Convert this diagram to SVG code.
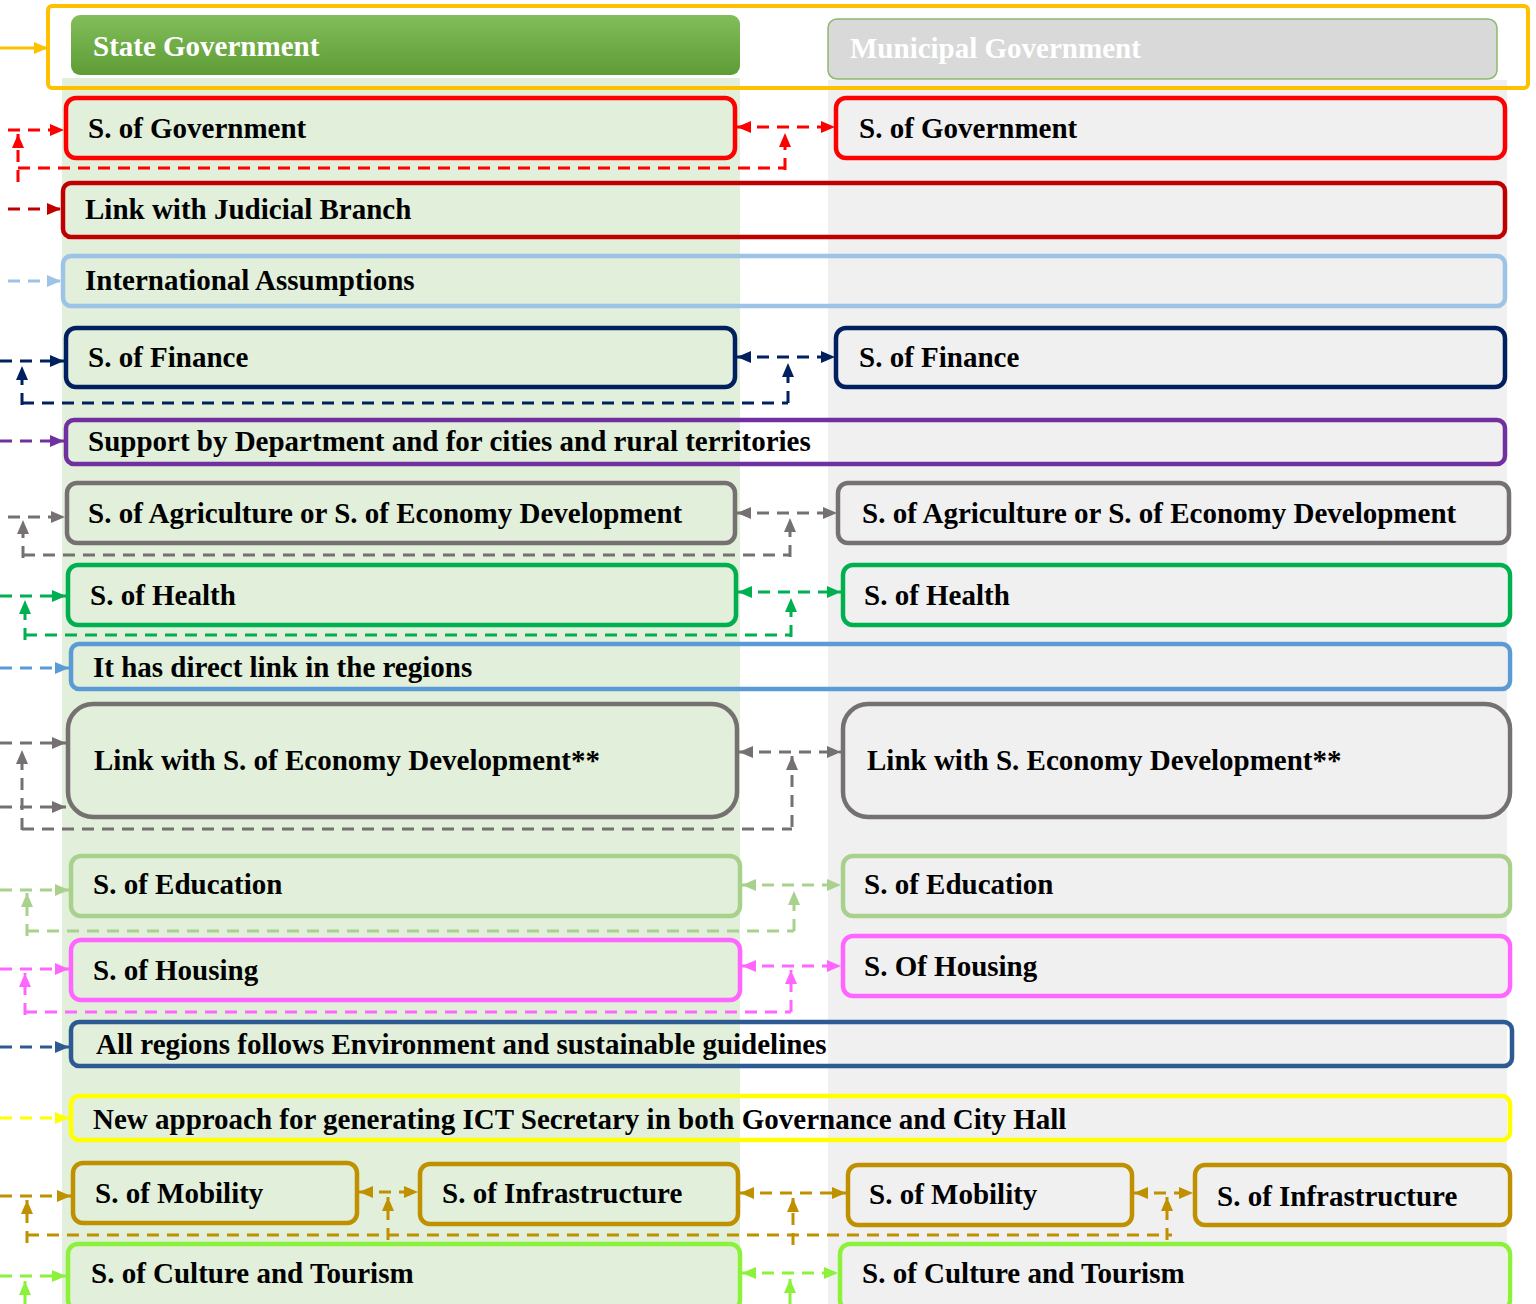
<svg xmlns="http://www.w3.org/2000/svg" width="1536" height="1304" viewBox="0 0 1536 1304">
<style>
text{font-family:"Liberation Serif","Times New Roman",serif;font-weight:bold;font-size:29px;fill:#000;dominant-baseline:central}
.hdr{fill:#fff}
.box{fill:none;stroke-width:4.5}
.c{fill:none;stroke-width:3;stroke-dasharray:12 8}
.red{stroke:#FF0000}.dred{stroke:#C00000}.lblue{stroke:#9DC3E6}.navy{stroke:#002060}.purple{stroke:#7030A0}
.gray{stroke:#767171}.green{stroke:#00B050}.blue{stroke:#5B9BD5}.lgreen{stroke:#A9D18E}.pink{stroke:#FF66FF}
.steel{stroke:#2E5A93}.yellow{stroke:#FFFF00}.gold{stroke:#BF9000}.lime{stroke:#8CF13A}
</style>
<defs>
<linearGradient id="gHdr" x1="0" y1="0" x2="0" y2="1">
<stop offset="0" stop-color="#82BE5A"/><stop offset="1" stop-color="#5E9C36"/>
</linearGradient>
<marker id="m-orange" viewBox="0 0 14 12" refX="14" refY="6" markerWidth="14" markerHeight="12" markerUnits="userSpaceOnUse" orient="auto-start-reverse"><path d="M0,0L14,6L0,12z" fill="#FFC000"/></marker>
<marker id="m-red" viewBox="0 0 14 12" refX="14" refY="6" markerWidth="14" markerHeight="12" markerUnits="userSpaceOnUse" orient="auto-start-reverse"><path d="M0,0L14,6L0,12z" fill="#FF0000"/></marker>
<marker id="m-dred" viewBox="0 0 14 12" refX="14" refY="6" markerWidth="14" markerHeight="12" markerUnits="userSpaceOnUse" orient="auto-start-reverse"><path d="M0,0L14,6L0,12z" fill="#C00000"/></marker>
<marker id="m-lblue" viewBox="0 0 14 12" refX="14" refY="6" markerWidth="14" markerHeight="12" markerUnits="userSpaceOnUse" orient="auto-start-reverse"><path d="M0,0L14,6L0,12z" fill="#9DC3E6"/></marker>
<marker id="m-navy" viewBox="0 0 14 12" refX="14" refY="6" markerWidth="14" markerHeight="12" markerUnits="userSpaceOnUse" orient="auto-start-reverse"><path d="M0,0L14,6L0,12z" fill="#002060"/></marker>
<marker id="m-purple" viewBox="0 0 14 12" refX="14" refY="6" markerWidth="14" markerHeight="12" markerUnits="userSpaceOnUse" orient="auto-start-reverse"><path d="M0,0L14,6L0,12z" fill="#7030A0"/></marker>
<marker id="m-gray" viewBox="0 0 14 12" refX="14" refY="6" markerWidth="14" markerHeight="12" markerUnits="userSpaceOnUse" orient="auto-start-reverse"><path d="M0,0L14,6L0,12z" fill="#767171"/></marker>
<marker id="m-green" viewBox="0 0 14 12" refX="14" refY="6" markerWidth="14" markerHeight="12" markerUnits="userSpaceOnUse" orient="auto-start-reverse"><path d="M0,0L14,6L0,12z" fill="#00B050"/></marker>
<marker id="m-blue" viewBox="0 0 14 12" refX="14" refY="6" markerWidth="14" markerHeight="12" markerUnits="userSpaceOnUse" orient="auto-start-reverse"><path d="M0,0L14,6L0,12z" fill="#5B9BD5"/></marker>
<marker id="m-lgreen" viewBox="0 0 14 12" refX="14" refY="6" markerWidth="14" markerHeight="12" markerUnits="userSpaceOnUse" orient="auto-start-reverse"><path d="M0,0L14,6L0,12z" fill="#A9D18E"/></marker>
<marker id="m-pink" viewBox="0 0 14 12" refX="14" refY="6" markerWidth="14" markerHeight="12" markerUnits="userSpaceOnUse" orient="auto-start-reverse"><path d="M0,0L14,6L0,12z" fill="#FF66FF"/></marker>
<marker id="m-steel" viewBox="0 0 14 12" refX="14" refY="6" markerWidth="14" markerHeight="12" markerUnits="userSpaceOnUse" orient="auto-start-reverse"><path d="M0,0L14,6L0,12z" fill="#2E5A93"/></marker>
<marker id="m-yellow" viewBox="0 0 14 12" refX="14" refY="6" markerWidth="14" markerHeight="12" markerUnits="userSpaceOnUse" orient="auto-start-reverse"><path d="M0,0L14,6L0,12z" fill="#FFFF00"/></marker>
<marker id="m-gold" viewBox="0 0 14 12" refX="14" refY="6" markerWidth="14" markerHeight="12" markerUnits="userSpaceOnUse" orient="auto-start-reverse"><path d="M0,0L14,6L0,12z" fill="#BF9000"/></marker>
<marker id="m-lime" viewBox="0 0 14 12" refX="14" refY="6" markerWidth="14" markerHeight="12" markerUnits="userSpaceOnUse" orient="auto-start-reverse"><path d="M0,0L14,6L0,12z" fill="#8CF13A"/></marker>
</defs>
<rect width="1536" height="1304" fill="#fff"/>
<g id="columns">
<rect x="62" y="78" width="678" height="1226" fill="#E2EFDA"/>
<rect x="828" y="80" width="679" height="1224" fill="#F0F0F0"/>
</g>
<g id="frame">
<rect x="48" y="6" width="1480" height="82" rx="4" fill="none" stroke="#FFC000" stroke-width="4"/>
</g>
<g id="state-government">
<rect x="71" y="15" width="669" height="60" rx="9" fill="url(#gHdr)"/>
<text class="hdr" x="93" y="46">State Government</text>
</g>
<g id="municipal-government">
<rect x="828" y="19" width="669" height="60" rx="9" fill="#D9D9D9" stroke="#8DB870" stroke-width="1.5"/>
<text class="hdr" x="850" y="48">Municipal Government</text>
</g>
<g id="sgov-state"><rect class="box red" x="66" y="98" width="669" height="60" rx="10"/><text x="88" y="128">S. of Government</text></g>
<g id="sgov-mun"><rect class="box red" x="836" y="98" width="669" height="60" rx="10"/><text x="859" y="128">S. of Government</text></g>
<g id="judicial"><rect class="box dred" x="63" y="183" width="1442" height="54" rx="8"/><text x="85" y="209">Link with Judicial Branch</text></g>
<g id="international"><rect class="box lblue" x="63" y="256" width="1442" height="50" rx="8"/><text x="85" y="280">International Assumptions</text></g>
<g id="finance-state"><rect class="box navy" x="66" y="328" width="669" height="59" rx="10"/><text x="88" y="357">S. of Finance</text></g>
<g id="finance-mun"><rect class="box navy" x="836" y="328" width="669" height="59" rx="10"/><text x="859" y="357">S. of Finance</text></g>
<g id="support"><rect class="box purple" x="66" y="420" width="1439" height="44" rx="8"/><text x="88" y="441">Support by Department and for cities and rural territories</text></g>
<g id="agri-state"><rect class="box gray" x="67" y="483" width="668" height="60" rx="10"/><text x="88" y="513">S. of Agriculture or S. of Economy Development</text></g>
<g id="agri-mun"><rect class="box gray" x="838" y="483" width="671" height="60" rx="10"/><text x="862" y="513">S. of Agriculture or S. of Economy Development</text></g>
<g id="health-state"><rect class="box green" x="68" y="565" width="668" height="60" rx="10"/><text x="90" y="595">S. of Health</text></g>
<g id="health-mun"><rect class="box green" x="843" y="565" width="667" height="60" rx="10"/><text x="864" y="595">S. of Health</text></g>
<g id="direct-link"><rect class="box blue" x="71" y="644" width="1439" height="45" rx="8"/><text x="93" y="667">It has direct link in the regions</text></g>
<g id="econ-state"><rect class="box gray" x="68" y="704" width="669" height="113" rx="25" stroke-width="5"/><text x="94" y="760">Link with S. of Economy Development**</text></g>
<g id="econ-mun"><rect class="box gray" x="843" y="704" width="667" height="113" rx="25" stroke-width="5"/><text x="867" y="760">Link with S. Economy Development**</text></g>
<g id="edu-state"><rect class="box lgreen" x="71" y="856" width="669" height="60" rx="10"/><text x="93" y="884">S. of Education</text></g>
<g id="edu-mun"><rect class="box lgreen" x="843" y="856" width="667" height="60" rx="10"/><text x="864" y="884">S. of Education</text></g>
<g id="housing-state"><rect class="box pink" x="71" y="940" width="669" height="60" rx="10"/><text x="93" y="970">S. of Housing</text></g>
<g id="housing-mun"><rect class="box pink" x="843" y="936" width="667" height="60" rx="10"/><text x="864" y="966">S. Of Housing</text></g>
<g id="environment"><rect class="box steel" x="71" y="1022" width="1441" height="44" rx="8"/><text x="96" y="1044">All regions follows Environment and sustainable guidelines</text></g>
<g id="ict"><rect class="box yellow" x="71" y="1096" width="1439" height="44" rx="8"/><text x="93" y="1119">New approach for generating ICT Secretary in both Governance and City Hall</text></g>
<g id="mob-state"><rect class="box gold" x="73" y="1163" width="284" height="60" rx="10"/><text x="95" y="1193">S. of Mobility</text></g>
<g id="infra-state"><rect class="box gold" x="420" y="1164" width="318" height="60" rx="10"/><text x="442" y="1193">S. of Infrastructure</text></g>
<g id="mob-mun"><rect class="box gold" x="848" y="1165" width="284" height="60" rx="10"/><text x="869" y="1194">S. of Mobility</text></g>
<g id="infra-mun"><rect class="box gold" x="1195" y="1165" width="315" height="60" rx="10"/><text x="1217" y="1196">S. of Infrastructure</text></g>
<g id="culture-state"><rect class="box lime" x="68" y="1244" width="672" height="66" rx="10"/><text x="91" y="1273">S. of Culture and Tourism</text></g>
<g id="culture-mun"><rect class="box lime" x="840" y="1244" width="670" height="66" rx="10"/><text x="862" y="1273">S. of Culture and Tourism</text></g>
<g id="connectors">
<path d="M0,48H48" fill="none" stroke="#FFC000" stroke-width="3" marker-end="url(#m-orange)"/>
<path class="c red" d="M8,130H64" marker-end="url(#m-red)"/>
<path class="c red" d="M18,182V134" marker-end="url(#m-red)"/>
<path class="c red" d="M18,168H785"/>
<path class="c red" d="M785,170V133" marker-end="url(#m-red)"/>
<path class="c red" d="M737,127H835" marker-start="url(#m-red)" marker-end="url(#m-red)"/>
<path class="c dred" d="M8,209H61" marker-end="url(#m-dred)"/>
<path class="c lblue" d="M8,281H61" marker-end="url(#m-lblue)"/>
<path class="c navy" d="M0,361H64" marker-end="url(#m-navy)"/>
<path class="c navy" d="M22,405V366" marker-end="url(#m-navy)"/>
<path class="c navy" d="M22,403H788"/>
<path class="c navy" d="M788,403V363" marker-end="url(#m-navy)"/>
<path class="c navy" d="M737,357H835" marker-start="url(#m-navy)" marker-end="url(#m-navy)"/>
<path class="c purple" d="M0,441H64" marker-end="url(#m-purple)"/>
<path class="c gray" d="M8,517H65" marker-end="url(#m-gray)"/>
<path class="c gray" d="M23,558V520" marker-end="url(#m-gray)"/>
<path class="c gray" d="M23,555H790"/>
<path class="c gray" d="M790,557V518" marker-end="url(#m-gray)"/>
<path class="c gray" d="M737,513H837" marker-start="url(#m-gray)" marker-end="url(#m-gray)"/>
<path class="c green" d="M0,596H66" marker-end="url(#m-green)"/>
<path class="c green" d="M25,640V600" marker-end="url(#m-green)"/>
<path class="c green" d="M25,635H791"/>
<path class="c green" d="M791,637V598" marker-end="url(#m-green)"/>
<path class="c green" d="M738,592H841" marker-start="url(#m-green)" marker-end="url(#m-green)"/>
<path class="c blue" d="M0,668H69" marker-end="url(#m-blue)"/>
<path class="c gray" d="M0,743H66" marker-end="url(#m-gray)"/>
<path class="c gray" d="M0,807H66" marker-end="url(#m-gray)"/>
<path class="c gray" d="M22,830V750" marker-end="url(#m-gray)"/>
<path class="c gray" d="M22,829H792"/>
<path class="c gray" d="M792,827V756" marker-end="url(#m-gray)"/>
<path class="c gray" d="M739,752H841" marker-start="url(#m-gray)" marker-end="url(#m-gray)"/>
<path class="c lgreen" d="M0,890H69" marker-end="url(#m-lgreen)"/>
<path class="c lgreen" d="M27,936V893" marker-end="url(#m-lgreen)"/>
<path class="c lgreen" d="M27,931H794"/>
<path class="c lgreen" d="M794,931V891" marker-end="url(#m-lgreen)"/>
<path class="c lgreen" d="M742,885H841" marker-start="url(#m-lgreen)" marker-end="url(#m-lgreen)"/>
<path class="c pink" d="M0,969H69" marker-end="url(#m-pink)"/>
<path class="c pink" d="M25,1015V973" marker-end="url(#m-pink)"/>
<path class="c pink" d="M25,1012H791"/>
<path class="c pink" d="M791,1012V970" marker-end="url(#m-pink)"/>
<path class="c pink" d="M742,966H841" marker-start="url(#m-pink)" marker-end="url(#m-pink)"/>
<path class="c steel" d="M0,1047H69" marker-end="url(#m-steel)"/>
<path class="c yellow" d="M0,1118H69" marker-end="url(#m-yellow)"/>
<path class="c gold" d="M0,1196H71" marker-end="url(#m-gold)"/>
<path class="c gold" d="M27,1243V1200" marker-end="url(#m-gold)"/>
<path class="c gold" d="M27,1235H1172"/>
<path class="c gold" d="M388,1240V1197" marker-end="url(#m-gold)"/>
<path class="c gold" d="M359,1192H418" marker-start="url(#m-gold)" marker-end="url(#m-gold)"/>
<path class="c gold" d="M793,1245V1198" marker-end="url(#m-gold)"/>
<path class="c gold" d="M740,1193H846" marker-start="url(#m-gold)" marker-end="url(#m-gold)"/>
<path class="c gold" d="M1134,1193H1193" marker-start="url(#m-gold)" marker-end="url(#m-gold)"/>
<path class="c gold" d="M1167,1240V1197" marker-end="url(#m-gold)"/>
<path class="c lime" d="M0,1276H66" marker-end="url(#m-lime)"/>
<path class="c lime" d="M25,1304V1281" marker-end="url(#m-lime)"/>
<path class="c lime" d="M742,1273H838" marker-start="url(#m-lime)" marker-end="url(#m-lime)"/>
<path class="c lime" d="M790,1304V1279" marker-end="url(#m-lime)"/>
</g>
</svg>
